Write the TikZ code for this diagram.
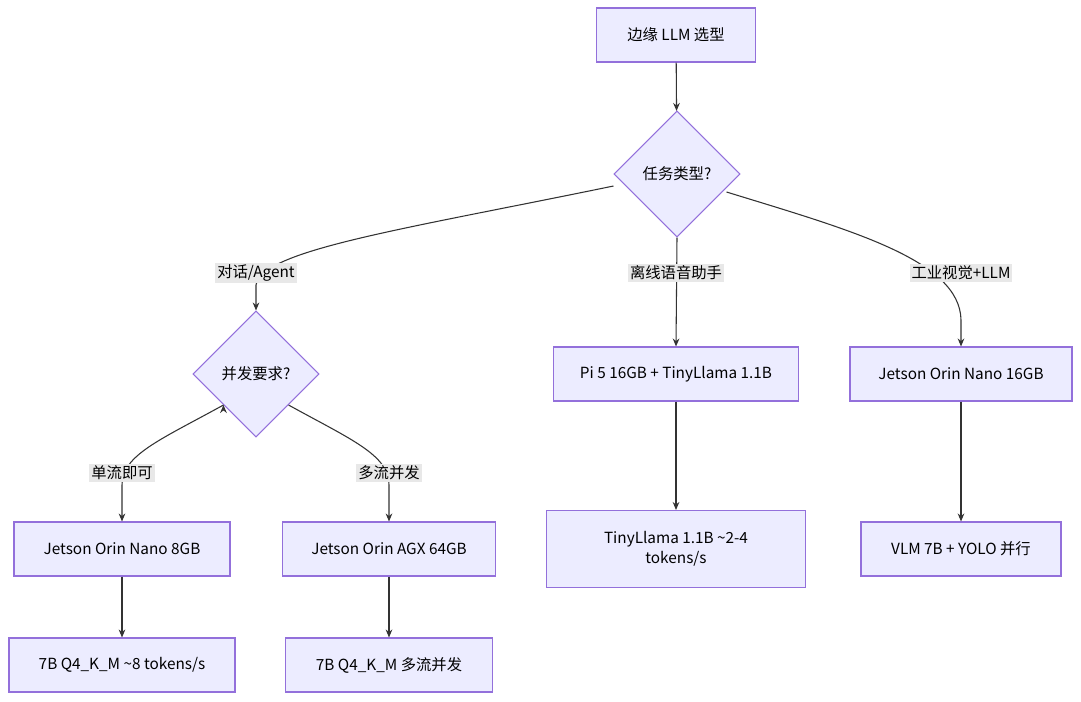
\documentclass[tikz,border=0pt]{standalone}
\usepackage{fontspec}
\setmainfont{Fira Sans}
\newfontfamily\cjk{Noto Sans CJK SC}
\usetikzlibrary{shapes.geometric,arrows.meta}
\definecolor{nf}{HTML}{ECECFF}
\definecolor{nb}{HTML}{9370DB}
\definecolor{ln}{HTML}{333333}
\definecolor{lb}{HTML}{E8E8E8}
\begin{document}
\begin{tikzpicture}[x=0.75pt,y=-0.75pt,
  box/.style={draw=nb,fill=nf,line width=0.8pt,font=\cjk\fontsize{11.5}{15}\selectfont,align=center,inner sep=0pt},
  dia/.style={draw=nb,fill=nf,line width=0.8pt,diamond,font=\cjk\fontsize{11.5}{15}\selectfont,minimum width=126*0.75pt,minimum height=126*0.75pt,inner sep=0pt},
  lab/.style={fill=lb,font=\cjk\fontsize{11.5}{15}\selectfont,inner sep=1.5pt},
  ed/.style={draw=ln,line width=0.8pt,-{Stealth[length=6pt,width=5pt]}},
  el/.style={draw=ln,line width=0.8pt}]
\useasboundingbox (0,0) rectangle (1081,701);
\node[box,minimum width=159*0.75pt,minimum height=54*0.75pt] (root) at (676,35) {边缘 LLM 选型};
\node[dia] (d1) at (677,174) {任务类型?};
\node[dia] (d2) at (256,374) {并发要求?};
\node[box,minimum width=245*0.75pt,minimum height=54*0.75pt] (pi) at (676,374) {Pi 5 16GB + TinyLlama 1.1B};
\node[box,minimum width=222*0.75pt,minimum height=54*0.75pt] (j16) at (961,374) {Jetson Orin Nano 16GB};
\node[box,minimum width=216*0.75pt,minimum height=54*0.75pt] (j8) at (122,549) {Jetson Orin Nano 8GB};
\node[box,minimum width=213*0.75pt,minimum height=54*0.75pt] (agx) at (389,549) {Jetson Orin AGX 64GB};
\node[box,minimum width=259*0.75pt,minimum height=77*0.75pt] (tl) at (676,549) {TinyLlama 1.1B \textasciitilde2-4\\tokens/s};
\node[box,minimum width=200*0.75pt,minimum height=54*0.75pt] (vlm) at (961,549) {VLM 7B + YOLO 并行};
\node[box,minimum width=226*0.75pt,minimum height=54*0.75pt] (s1) at (122,665) {7B Q4\_K\_M \textasciitilde8 tokens/s};
\node[box,minimum width=207*0.75pt,minimum height=54*0.75pt] (s2) at (389,665) {7B Q4\_K\_M 多流并发};

\draw[ed] (root) -- (d1);
% d1 -> d2
\coordinate (a1) at (256,273);
\draw[el] (d1.west) ++(0,12) coordinate (p1);
\draw[ed] (p1) .. controls (400,230) and (262,250) .. (256,285) -- (d2.north);
\node[lab] at (a1) {对话/Agent};
% d1 -> pi
\draw[ed] (d1.south) -- (pi.north);
\node[lab] at (676,273) {离线语音助手};
% d1 -> j16
\draw[el] (d1.east) ++(-14,18) coordinate (p2);
\draw[ed] (p2) .. controls (850,230) and (960,260) .. (961,320) -- (j16.north);
\node[lab] at (961,273) {工业视觉+LLM};
% d2 -> j8, agx
\draw[ed] (d2.west) ++(31,31) coordinate (p3);
\draw[ed] (p3) .. controls (160,440) and (122,455) .. (122,485) -- (j8.north);
\node[lab] at (122,473) {单流即可};
\draw[el] (d2.east) ++(-31,31) coordinate (p4);
\draw[ed] (p4) .. controls (352,440) and (389,455) .. (389,485) -- (agx.north);
\node[lab] at (389,473) {多流并发};
\draw[ed] (pi) -- (tl);
\draw[ed] (j16) -- (vlm);
\draw[ed] (j8) -- (s1);
\draw[ed] (agx) -- (s2);
\end{tikzpicture}
\end{document}
